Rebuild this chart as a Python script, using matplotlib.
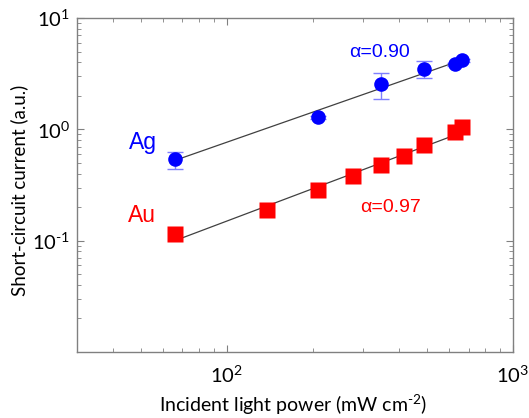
import numpy as np
import matplotlib
matplotlib.use("Agg")
import matplotlib.pyplot as plt
from matplotlib.ticker import LogLocator, NullFormatter

# data
ag_power = [66, 208, 347, 490, 628, 664]
ag_current = [0.54, 1.28, 2.55, 3.50, 3.83, 4.16]
ag_err_low = [0.10, 0.05, 0.66, 0.59, 0.10, 0.10]
ag_err_high = [0.09, 0.05, 0.67, 0.60, 0.10, 0.10]
au_power = [66, 138, 208, 277, 347, 417, 490, 628, 664]
au_current = [0.114, 0.188, 0.284, 0.379, 0.475, 0.573, 0.719, 0.94, 1.04]
ag_alpha = 0.90
au_alpha = 0.97

plt.rcParams['mathtext.fontset'] = 'custom'
plt.rcParams['mathtext.rm'] = 'Lato'

fig = plt.figure(figsize=(5.29, 4.18), dpi=100)
ax = fig.add_axes([77/529, 66/418, 436/529, 334/418])
ax.set_xscale('log')
ax.set_yscale('log')
ax.set_xlim(30, 1000)
ax.set_ylim(0.01, 10)

def fit_line(x, y, a):
    x = np.asarray(x, float); y = np.asarray(y, float)
    logA = np.mean(np.log10(y) - a*np.log10(x))
    xs = np.array([x[0], x[-1]*1.03])
    return xs, 10**logA * xs**a

xs, ys = fit_line(ag_power, ag_current, ag_alpha)
ax.plot(xs, ys, color='#404040', lw=0.9, zorder=2)
xs, ys = fit_line(au_power, au_current, au_alpha)
ax.plot(xs, ys, color='#404040', lw=0.9, zorder=2)

ax.errorbar(ag_power, ag_current, yerr=[ag_err_low, ag_err_high], fmt='none',
            ecolor='#7f7fff', elinewidth=1, capsize=6, capthick=1, zorder=3)
ax.plot(ag_power, ag_current, 'o', color='#0000ff', ms=10.5, mec='none', zorder=4)
ax.plot(au_power, au_current, 's', color='#ff0000', ms=12, mec='none', zorder=4)

ax.text(0.151, 0.626, 'Ag', transform=ax.transAxes, color='#0000ff', fontsize=16.5,
        family='Liberation Sans', ha='center', va='center')
ax.text(0.149, 0.41, 'Au', transform=ax.transAxes, color='#ff0000', fontsize=16.5,
        family='Liberation Sans', ha='center', va='center')
ax.text(0.693, 0.898, 'α=0.90', transform=ax.transAxes, color='#0000ff', fontsize=14,
        family='Liberation Sans', ha='center', va='center')
ax.text(0.718, 0.434, 'α=0.97', transform=ax.transAxes, color='#ff0000', fontsize=14,
        family='Liberation Sans', ha='center', va='center')

for s in ax.spines.values():
    s.set_color('#808080')
    s.set_linewidth(1)
ax.tick_params(which='both', direction='in', top=True, right=True, color='#808080')
ax.tick_params(which='major', length=5, labelsize=14.5)
ax.tick_params(axis='x', which='major', pad=9)
ax.tick_params(axis='y', which='major', pad=5)
ax.tick_params(which='minor', length=3)
ax.xaxis.set_minor_locator(LogLocator(base=10, subs=np.arange(2, 10), numticks=10))
ax.yaxis.set_minor_locator(LogLocator(base=10, subs=np.arange(2, 10), numticks=10))
ax.set_yticks([0.1, 1, 10])
ax.set_yticklabels(['$\\mathregular{10^{\\text{-}1}}$', '$\\mathregular{10^{0}}$', '$\\mathregular{10^{1}}$'])
ax.set_xticks([100, 1000])
ax.set_xticklabels(['$\\mathregular{10^{2}}$', '$\\mathregular{10^{3}}$'])
ax.yaxis.set_minor_formatter(NullFormatter())
ax.xaxis.set_minor_formatter(NullFormatter())
for lab in ax.get_xticklabels() + ax.get_yticklabels():
    lab.set_family('Lato')

fig.text(293/529, 1 - 405/418, 'Incident light power (mW cm$\\mathregular{^{\\text{-}2}}$)',
         fontsize=14, family='Lato', ha='center', va='center')
fig.text(19/529, 1 - 190/418, 'Short-circuit current (a.u.)', rotation=90,
         fontsize=13.5, family='Lato', ha='center', va='center')

fig.savefig('out.png', dpi=100)
